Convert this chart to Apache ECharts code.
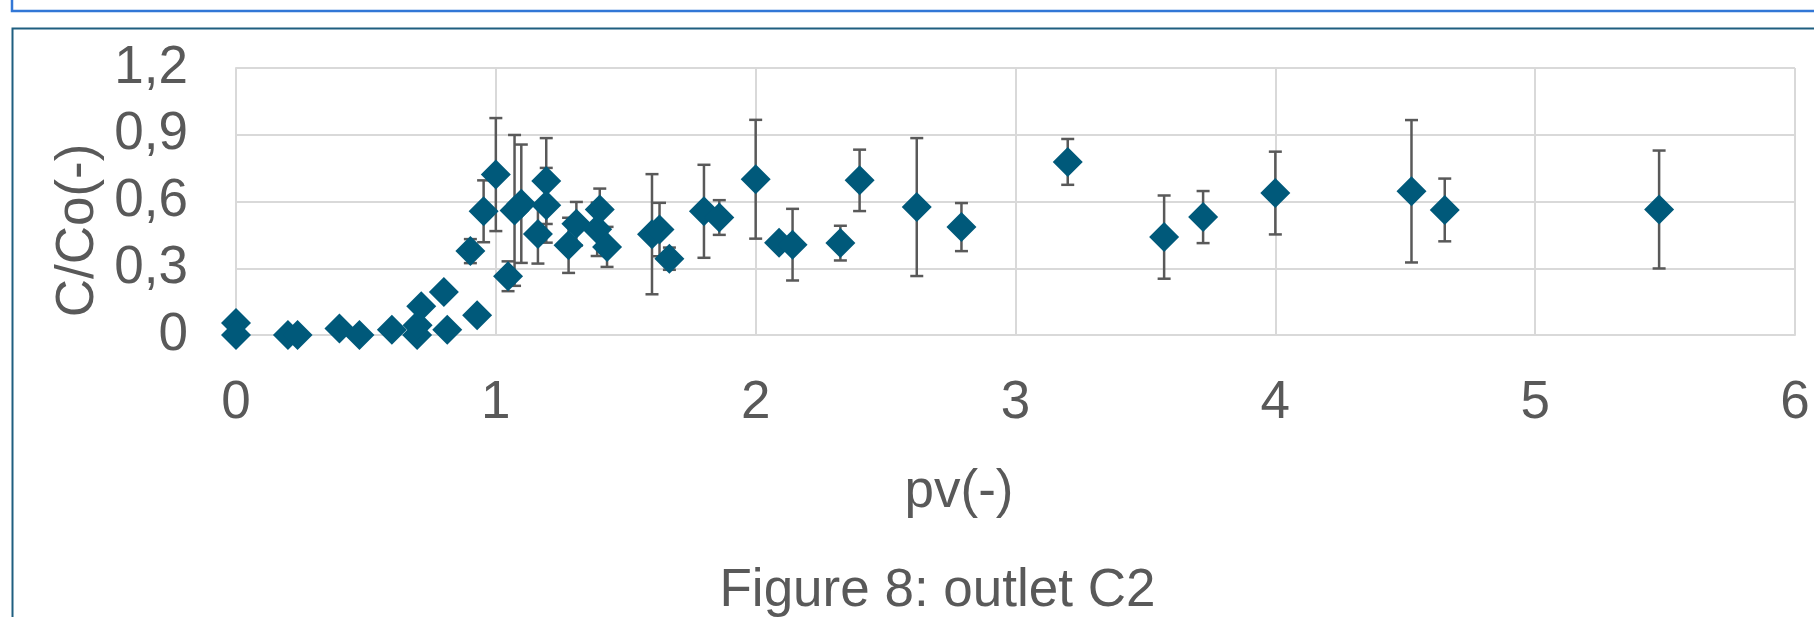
<!DOCTYPE html>
<html>
<head>
<meta charset="utf-8">
<script src="https://cdn.jsdelivr.net/npm/echarts@6/dist/echarts.min.js"></script>
<style>
html,body{margin:0;padding:0;background:#fff;}
#chart{width:1814px;height:617px;}
</style>
</head>
<body>
<div id="chart"></div>
<script>
// ---- data ----
const pv = [0, 0, 0.20, 0.237, 0.398, 0.475, 0.60, 0.697, 0.699, 0.713, 0.80, 0.813, 0.902, 0.928, 0.953, 1.0, 1.047, 1.072, 1.098, 1.162, 1.194, 1.194, 1.28, 1.31, 1.39, 1.40, 1.428, 1.601, 1.630, 1.668, 1.801, 1.860, 2.0, 2.090, 2.142, 2.326, 2.40, 2.62, 2.792, 3.201, 3.572, 3.722, 4.0, 4.524, 4.652, 5.477];
const cco = [0.054, 0, 0, 0, 0.029, 0, 0.024, 0, 0.044, 0.129, 0.193, 0.024, 0.377, 0.089, 0.556, 0.721, 0.264, 0.56, 0.59, 0.454, 0.692, 0.583, 0.403, 0.50, 0.475, 0.564, 0.396, 0.453, 0.474, 0.343, 0.556, 0.528, 0.70, 0.415, 0.406, 0.413, 0.695, 0.575, 0.485, 0.778, 0.44, 0.53, 0.638, 0.646, 0.562, 0.564];
const errs = [0, 0, 0, 0, 0, 0, 0, 0, 0, 0, 0, 0, 0.054, 0, 0.139, 0.254, 0.067, 0.339, 0.266, 0.133, 0.193, 0.168, 0.124, 0.098, 0.12, 0.094, 0.09, 0.27, 0.12, 0.05, 0.209, 0.078, 0.267, 0, 0.161, 0.078, 0.138, 0.31, 0.108, 0.103, 0.187, 0.117, 0.186, 0.32, 0.141, 0.265];
const xTicks = [0, 1, 2, 3, 4, 5, 6];
const yTicks = [0, 0.3, 0.6, 0.9, 1.2];
const xTitle = 'pv(-)';
const yTitle = 'C/Co(-)';
const caption = 'Figure 8: outlet C2';

// ---- build ----
const pts = pv.map((x, i) => [x, cco[i]]);
const bars = [];
pv.forEach((x, i) => { if (errs[i] > 0) bars.push([x, cco[i] - errs[i], cco[i] + errs[i]]); });

const TXT = '#595959';
const FONT = 'Liberation Sans, Arial, sans-serif';
const GRID = '#D9D9D9';
const FS = 53;

const chart = echarts.init(document.getElementById('chart'), null, {renderer: 'canvas'});
chart.setOption({
  animation: false,
  backgroundColor: '#ffffff',
  grid: {left: 236, right: 19, top: 68, bottom: 282},
  xAxis: {
    type: 'value', min: xTicks[0], max: xTicks[xTicks.length - 1], interval: 1,
    axisLine: {show: true, lineStyle: {color: GRID, width: 2}},
    axisTick: {show: false},
    splitLine: {show: true, lineStyle: {color: GRID, width: 2}},
    axisLabel: {color: TXT, fontFamily: FONT, fontSize: FS, margin: 42,
      formatter: v => String(v)}
  },
  yAxis: {
    type: 'value', min: yTicks[0], max: yTicks[yTicks.length - 1], interval: 0.3,
    axisLine: {show: true, lineStyle: {color: GRID, width: 2}},
    axisTick: {show: false},
    splitLine: {show: true, lineStyle: {color: GRID, width: 2}},
    axisLabel: {color: TXT, fontFamily: FONT, fontSize: FS, margin: 48,
      formatter: v => v === 0 ? '0' : v.toFixed(1).replace('.', ',')}
  },
  graphic: [
    {type: 'rect', silent: true, z: 100, shape: {x: 12, y: -30, width: 1900, height: 41},
      style: {fill: 'none', stroke: '#3277D6', lineWidth: 2.5}},
    {type: 'rect', silent: true, z: 100, shape: {x: 12.5, y: 28.5, width: 1900, height: 700},
      style: {fill: 'none', stroke: '#1F5F80', lineWidth: 2}},
    {type: 'text', silent: true, x: 959, y: 492,
      style: {text: xTitle, fill: TXT, font: FS + 'px ' + FONT, textAlign: 'center', textVerticalAlign: 'middle'}},
    {type: 'text', silent: true, x: 78, y: 230.5, rotation: Math.PI / 2,
      style: {text: yTitle, fill: TXT, font: FS + 'px ' + FONT, textAlign: 'center', textVerticalAlign: 'middle'}},
    {type: 'text', silent: true, x: 937.5, y: 591,
      style: {text: caption, fill: TXT, font: FS + 'px ' + FONT, textAlign: 'center', textVerticalAlign: 'middle'}}
  ],
  series: [
    {
      type: 'custom', z: 1,
      data: bars,
      renderItem: function (params, api) {
        const x = api.value(0);
        const lo = api.coord([x, api.value(1)]);
        const hi = api.coord([x, api.value(2)]);
        const c = 6.5;
        const st = {stroke: '#595959', lineWidth: 2.5};
        return {type: 'group', children: [
          {type: 'line', shape: {x1: lo[0], y1: lo[1], x2: hi[0], y2: hi[1]}, style: st},
          {type: 'line', shape: {x1: hi[0] - c, y1: hi[1], x2: hi[0] + c, y2: hi[1]}, style: st},
          {type: 'line', shape: {x1: lo[0] - c, y1: lo[1], x2: lo[0] + c, y2: lo[1]}, style: st}
        ]};
      }
    },
    {
      type: 'scatter', z: 2,
      data: pts,
      symbol: 'diamond', symbolSize: 30,
      itemStyle: {color: '#00597A', opacity: 1}
    }
  ]
});
</script>
</body>
</html>
